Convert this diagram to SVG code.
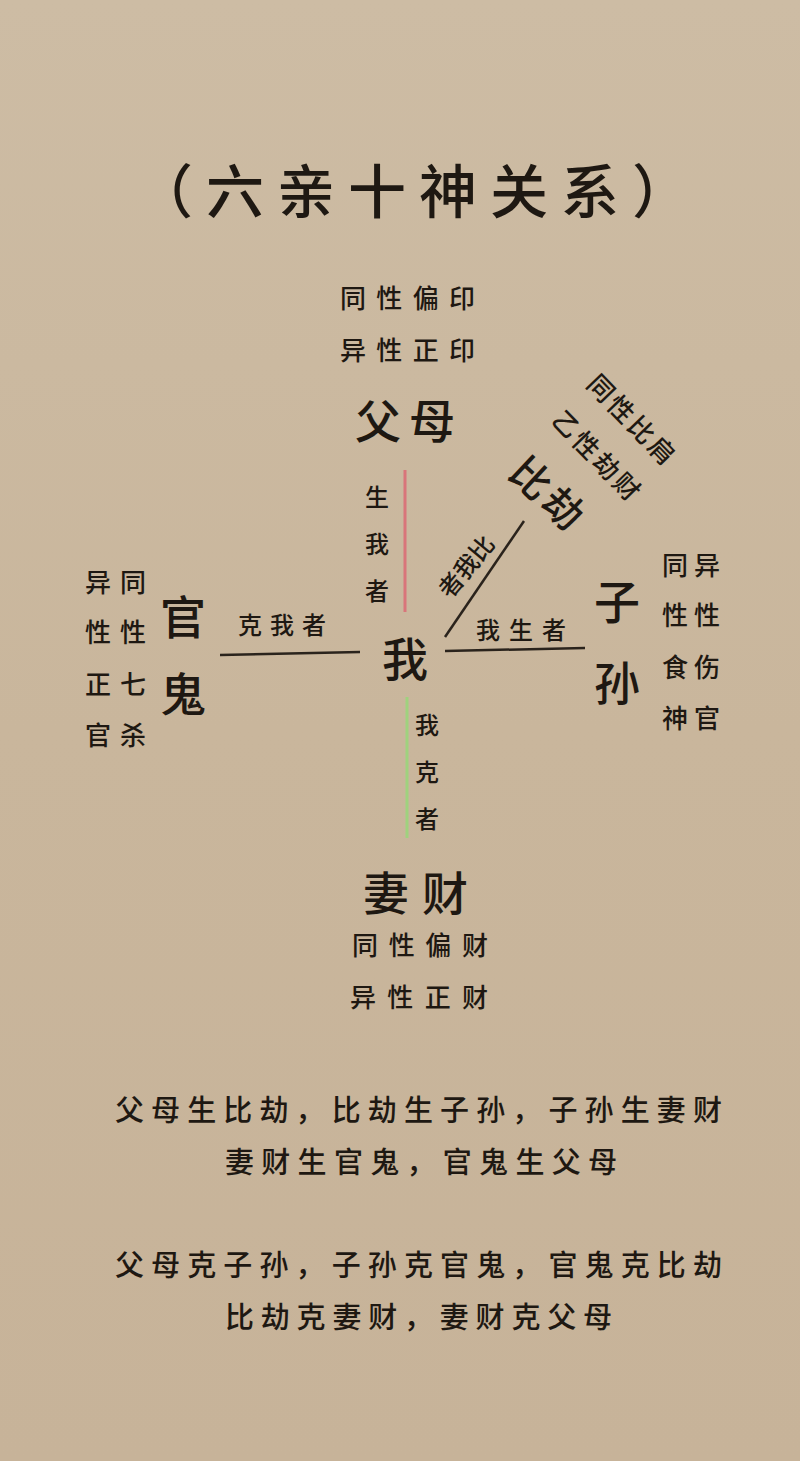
<svg xmlns="http://www.w3.org/2000/svg" width="800" height="1461" viewBox="0 0 800 1461">
<defs>
<linearGradient id="bg" x1="0" y1="0" x2="0" y2="1">
<stop offset="0" stop-color="#cdbca4"/>
<stop offset="0.5" stop-color="#c9b69c"/>
<stop offset="1" stop-color="#c7b399"/>
</linearGradient>
<style>
text{font-family:"Noto Sans CJK SC","Noto Sans CJK JP",sans-serif;fill:#1e1812;font-weight:500;}
.big{font-size:46px;}
.mid{font-size:26px;}
.sm{font-size:24px;}
.para{font-size:29px;}
.ln{stroke:#2a231c;stroke-width:2.5;fill:none;}
</style>
</defs>
<rect width="800" height="1461" fill="url(#bg)"/>
<text x="135" y="213" textLength="555" lengthAdjust="spacing" style="font-size:58px">（六亲十神关系）</text>

<g id="connectors">
<line x1="405" y1="470" x2="405" y2="612" stroke="#d9757a" stroke-width="3"/>
<line x1="407" y1="697" x2="407" y2="838" stroke="#9fd27e" stroke-width="3"/>
<line class="ln" x1="220" y1="655" x2="360" y2="652"/>
<line class="ln" x1="445" y1="651" x2="585" y2="648"/>
<line class="ln" x1="445" y1="637" x2="524" y2="521"/>
<text class="sm" x="377" y="506" text-anchor="middle">生</text>
<text class="sm" x="377" y="553" text-anchor="middle">我</text>
<text class="sm" x="377" y="600" text-anchor="middle">者</text>
<text class="sm" x="427" y="734" text-anchor="middle">我</text>
<text class="sm" x="427" y="781" text-anchor="middle">克</text>
<text class="sm" x="427" y="828" text-anchor="middle">者</text>
<text class="sm" x="238" y="634" textLength="88" lengthAdjust="spacing">克我者</text>
<text class="sm" x="476" y="639" textLength="90" lengthAdjust="spacing">我生者</text>
<text class="sm" x="467" y="575" text-anchor="middle" transform="rotate(-50 467 567)">者我比</text>
</g>

<g id="fumu">
<text class="mid" x="340" y="308" textLength="135" lengthAdjust="spacing">同性偏印</text>
<text class="mid" x="340" y="360" textLength="135" lengthAdjust="spacing">异性正印</text>
<text class="big" x="355" y="438" textLength="100" lengthAdjust="spacing">父母</text>
</g>

<g id="bijie">
<text class="mid" x="632" y="430" text-anchor="middle" transform="rotate(46 632 421)" style="letter-spacing:3px">同性比肩</text>
<text class="mid" x="597" y="466" text-anchor="middle" transform="rotate(46 597 457)" style="letter-spacing:3px">乙性劫财</text>
<text x="548" y="509" text-anchor="middle" transform="rotate(43 548 495)" style="font-size:40px;letter-spacing:4px">比劫</text>
</g>

<g id="wo">
<text class="big" x="405" y="676" text-anchor="middle">我</text>
</g>

<g id="guangui">
<text class="big" x="183" y="634" text-anchor="middle">官</text>
<text class="big" x="183" y="711" text-anchor="middle">鬼</text>
<text class="mid" x="98" y="592" text-anchor="middle">异</text>
<text class="mid" x="98" y="642" text-anchor="middle">性</text>
<text class="mid" x="98" y="694" text-anchor="middle">正</text>
<text class="mid" x="98" y="745" text-anchor="middle">官</text>
<text class="mid" x="133" y="592" text-anchor="middle">同</text>
<text class="mid" x="133" y="642" text-anchor="middle">性</text>
<text class="mid" x="133" y="694" text-anchor="middle">七</text>
<text class="mid" x="133" y="745" text-anchor="middle">杀</text>
</g>

<g id="zisun">
<text class="big" x="617" y="619" text-anchor="middle">子</text>
<text class="big" x="617" y="700" text-anchor="middle">孙</text>
<text class="mid" x="675" y="575" text-anchor="middle">同</text>
<text class="mid" x="675" y="625" text-anchor="middle">性</text>
<text class="mid" x="675" y="677" text-anchor="middle">食</text>
<text class="mid" x="675" y="728" text-anchor="middle">神</text>
<text class="mid" x="707" y="575" text-anchor="middle">异</text>
<text class="mid" x="707" y="625" text-anchor="middle">性</text>
<text class="mid" x="707" y="677" text-anchor="middle">伤</text>
<text class="mid" x="707" y="728" text-anchor="middle">官</text>
</g>

<g id="qicai">
<text class="big" x="363" y="910" textLength="105" lengthAdjust="spacing">妻财</text>
<text class="mid" x="352" y="955" textLength="136" lengthAdjust="spacing">同性偏财</text>
<text class="mid" x="350" y="1007" textLength="138" lengthAdjust="spacing">异性正财</text>
</g>

<g id="notes">
<text class="para" x="115" y="1121" textLength="607" lengthAdjust="spacing">父母生比劫，比劫生子孙，子孙生妻财</text>
<text class="para" x="225" y="1173" textLength="392" lengthAdjust="spacing">妻财生官鬼，官鬼生父母</text>
<text class="para" x="115" y="1276" textLength="607" lengthAdjust="spacing">父母克子孙，子孙克官鬼，官鬼克比劫</text>
<text class="para" x="225" y="1328" textLength="387" lengthAdjust="spacing">比劫克妻财，妻财克父母</text>
</g>
</svg>
